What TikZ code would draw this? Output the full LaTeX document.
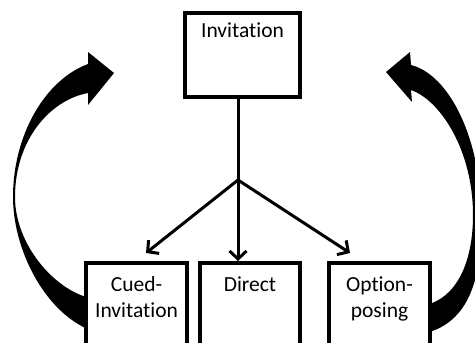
\documentclass[tikz,border=0pt]{standalone}
\usepackage{fontspec}
\setmainfont{Carlito}[Ligatures=NoCommon]
\usetikzlibrary{arrows.meta}
\tikzset{
  boxshape/.style={draw=black, fill=white, line width=3.4pt, rectangle, inner sep=0pt},
  lbl/.style={anchor=base, inner sep=0pt, font=\fontsize{21.5}{26}\selectfont, align=center},
  conn/.style={line width=3pt, -{Straight Barb[length=8pt,width=17pt,line width=3pt]}},
  bigarrow/.style={fill=black}
}
\begin{document}
\begin{tikzpicture}[x=1pt, y=-1pt]
\useasboundingbox (0,0) rectangle (475,343);
\clip (0,0) rectangle (475,343);
% curved arrows
\fill[bigarrow] (88,64) -- (88,52) -- (114,73) -- (88,105) -- (88,93)
  .. controls (50,100) and (15,140) .. (15,197)
  .. controls (15,245) and (55,290) .. (90,298) -- (90,330)
  .. controls (45,312) and (13,250) .. (13,197)
  .. controls (13,135) and (45,80) .. (88,64) -- cycle;
\fill[bigarrow] (411,65) -- (410,52) -- (386,72) -- (412,102) -- (411,90)
  .. controls (440,100) and (473,150) .. (473,215)
  .. controls (473,265) and (455,298) .. (426,305) -- (426,333)
  .. controls (468,322) and (483,280) .. (481,215)
  .. controls (481,140) and (450,75) .. (411,65) -- cycle;
% boxes
\node[boxshape, minimum width=115pt, minimum height=84pt] (inv) at (242.5,55) {};
\node[boxshape, minimum width=101pt, minimum height=140pt] (cued) at (136.5,333) {};
\node[boxshape, minimum width=100pt, minimum height=140pt] (direct) at (250,333) {};
\node[boxshape, minimum width=101pt, minimum height=140pt] (option) at (379.5,333) {};
% labels
\node[lbl] (invt) at (242.5,37) {Invitation};
\node[lbl] (cuedt) at (136.5,317) {Cued-\\Invitation};
\node[lbl] (directt) at (250,291) {Direct};
\node[lbl] (optiont) at (379.5,317) {Option-\\posing};
% connectors
\coordinate (top) at (238,97);
\coordinate (j) at (238,180);
\coordinate (tl) at (146,253);
\coordinate (tm) at (238,261);
\coordinate (tr) at (350,253);
\draw[line width=3pt] (top) -- (j);
\draw[conn] (j) -- (tl);
\draw[conn] (j) -- (tm);
\draw[conn] (j) -- (tr);
\end{tikzpicture}
\end{document}
